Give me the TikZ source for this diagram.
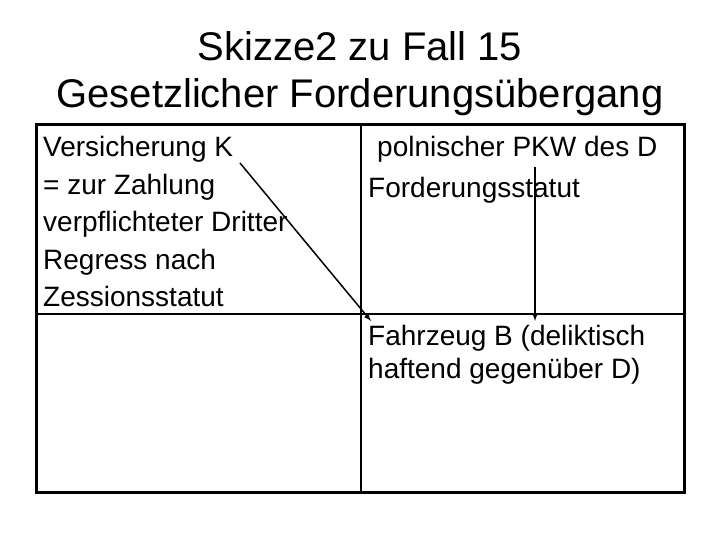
\documentclass[tikz,border=0pt]{standalone}
\usepackage{fontspec}
\setmainfont{Liberation Sans}
\usepackage{tikz}
\usetikzlibrary{arrows,positioning}

\begin{document}
\begin{tikzpicture}[
    x=1pt, y=-1pt,
    title/.style={font=\fontsize{40}{48}\selectfont, inner sep=0pt, anchor=base},
    txt/.style={font=\fontsize{28}{34}\selectfont, inner sep=0pt, text height=20pt, text depth=6pt},
    frame/.style={line width=3pt},
    rule/.style={line width=2pt},
    arrow/.style={-latex, line width=1.5pt}
]
\useasboundingbox (0,0) rectangle (720,540);

% Titel
\node[title] (title1) at (360,61) {Skizze2 zu Fall 15};
\node[title] (title2) at (360,108) {Gesetzlicher Forderungsübergang};

% Tabelle
\draw[frame] (36,125) rectangle (684,492);
\draw[rule] (361,125) -- (361,492);
\draw[rule] (36,314) -- (684,314);

% linke Zelle
\node[txt, anchor=base west] (vers) at (43,157) {Versicherung K};
\node[txt, below right=11pt and 0pt of vers.south west] (zahl) {= zur Zahlung};
\node[txt, below right=11pt and 0pt of zahl.south west] (dritt) {verpflichteter Dritter};
\node[txt, below right=11pt and 0pt of dritt.south west] (regr) {Regress nach};
\node[txt, below right=11pt and 0pt of regr.south west] (zess) {Zessionsstatut};

% rechte Zelle oben
\node[txt, anchor=base west] (pkw) at (377,157) {polnischer PKW des D};
\node[txt, below right=14pt and -9pt of pkw.south west] (ford) {Forderungsstatut};

% rechte Zelle unten
\node[txt, anchor=base west] (fahr) at (368,345) {Fahrzeug B (deliktisch};
\node[txt, below right=7pt and 0pt of fahr.south west] (haft) {haftend gegenüber D)};

% Pfeile
\coordinate (kstart) at (240,163);
\coordinate (kend) at (371,321);
\coordinate (dstart) at (535,167);
\coordinate (dend) at (535,321);
\draw[arrow] (kstart) -- (kend);
\draw[arrow] (dstart) -- (dend);
\end{tikzpicture}
\end{document}
